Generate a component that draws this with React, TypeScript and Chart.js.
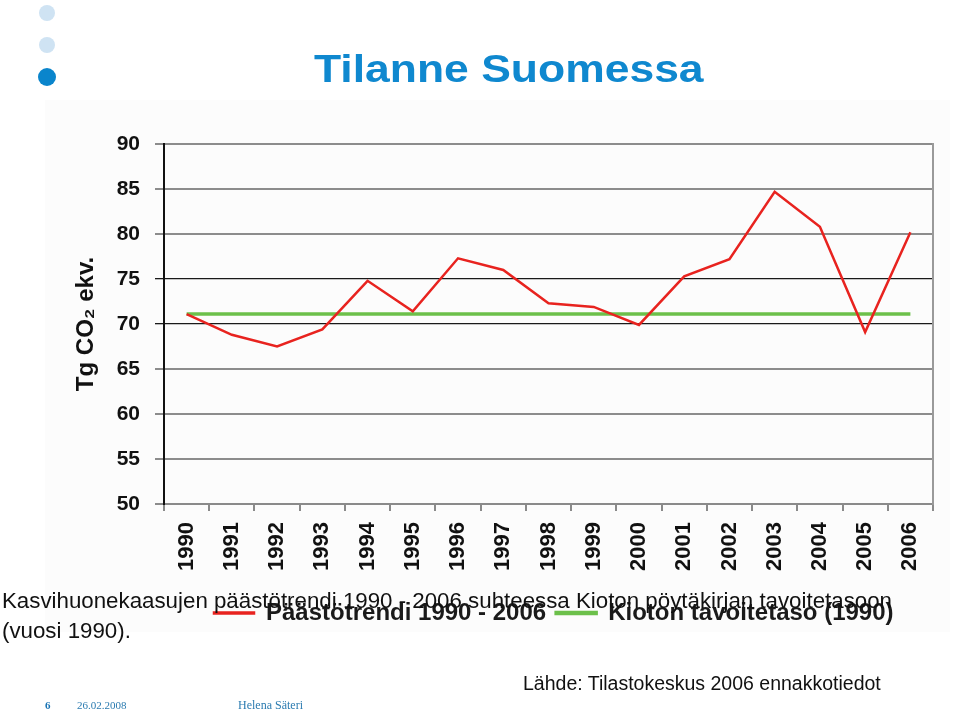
import React, { useEffect, useRef } from 'react';
import { Chart, registerables } from 'chart.js';

Chart.register(...registerables);

const years = ['1990', '1991', '1992', '1993', '1994', '1995', '1996', '1997', '1998', '1999', '2000', '2001', '2002', '2003', '2004', '2005', '2006'];
const emissions = [71.1, 68.8, 67.5, 69.4, 74.8, 71.4, 77.3, 76.0, 72.3, 71.9, 69.9, 75.3, 77.2, 84.7, 80.8, 69.1, 80.2];
const kyotoTarget = [71.1, 71.1, 71.1, 71.1, 71.1, 71.1, 71.1, 71.1, 71.1, 71.1, 71.1, 71.1, 71.1, 71.1, 71.1, 71.1, 71.1];
const seriesLabels = ['Päästötrendi 1990 - 2006', 'Kioton tavoitetaso (1990)'];
const yMin = 50;
const yMax = 90;
const yStep = 5;
const yTitle = 'Tg CO₂ ekv.';

const FONT = "'Liberation Sans', Arial, Helvetica, sans-serif";
const RED = '#e8231f';
const GREEN = '#6cc04a';

export default function App() {
  const ref = useRef<HTMLCanvasElement>(null);

  useEffect(() => {
    if (!ref.current) return;
    const legendShift = {
      id: 'legendShift',
      beforeDraw(chart: any) {
        const lg = chart.legend;
        if (lg) {
          const w = lg.right - lg.left;
          lg.left = 204;
          lg.right = 204 + w;
        }
      },
    };
    const chart = new Chart(ref.current, {
      type: 'line',
      data: {
        labels: years,
        datasets: [
          {
            label: seriesLabels[0],
            data: emissions,
            borderColor: RED,
            backgroundColor: RED,
            borderWidth: 2.5,
            pointRadius: 0,
            tension: 0,
          },
          {
            label: seriesLabels[1],
            data: kyotoTarget,
            borderColor: GREEN,
            backgroundColor: GREEN,
            borderWidth: 3.5,
            pointRadius: 0,
            tension: 0,
          },
        ],
      },
      options: {
        animation: false,
        responsive: false,
        maintainAspectRatio: false,
        layout: { padding: { left: 60, right: 27, top: 144, bottom: 78 } },
        plugins: {
          legend: {
            position: 'bottom',
            align: 'start',
            labels: {
              font: { family: FONT, size: 24, weight: 'bold' },
              color: '#1a1a1a',
              boxWidth: 40,
              boxHeight: 1,
              padding: 10,
            },
          },
          tooltip: { enabled: false },
        },
        scales: {
          x: {
            offset: true,
            grid: {
              offset: true,
              drawOnChartArea: false,
              drawTicks: true,
              tickLength: 7,
              color: '#8a8a8a',
              lineWidth: 2,
            },
            border: { color: '#8a8a8a', width: 2 },
            ticks: {
              autoSkip: false,
              maxRotation: 90,
              minRotation: 90,
              padding: 11,
              font: { family: FONT, size: 22, weight: 'bold' },
              color: '#111',
            },
            afterFit: (s: any) => {
              s.height = 87;
            },
          },
          y: {
            min: yMin,
            max: yMax,
            ticks: {
              stepSize: yStep,
              padding: 15,
              font: { family: FONT, size: 21, weight: 'bold' },
              color: '#111',
            },
            grid: {
              color: (ctx: any) => (ctx.tick && (ctx.tick.value === 70 || ctx.tick.value === 75) ? '#1a1a1a' : '#8c8c8c'),
              lineWidth: (ctx: any) => (ctx.tick && (ctx.tick.value === 70 || ctx.tick.value === 75) ? 1.3 : 2),
              tickLength: 9,
            },
            border: { color: '#111', width: 2 },
            title: {
              display: true,
              text: yTitle,
              font: { family: FONT, size: 24, weight: 'bold' },
              color: '#111',
              padding: { top: 12, bottom: 0 },
            },
            afterFit: (s: any) => {
              s.width = 104;
            },
          },
          y2: {
            position: 'right',
            min: yMin,
            max: yMax,
            ticks: { display: false },
            grid: { drawOnChartArea: false, drawTicks: false },
            border: { color: '#9a9a9a', width: 2 },
            afterFit: (s: any) => {
              s.width = 0;
            },
          },
        },
      },
      plugins: [legendShift],
    } as any);
    return () => chart.destroy();
  }, []);

  const bullet = (top: number, color: string, r: number) => (
    <div
      style={{
        position: 'absolute',
        left: 47 - r,
        top: top - r,
        width: r * 2,
        height: r * 2,
        borderRadius: '50%',
        background: color,
      }}
    />
  );

  return (
    <div
      style={{
        position: 'absolute',
        left: 0,
        top: 0,
        width: 960,
        height: 713,
        background: '#ffffff',
        overflow: 'hidden',
        fontFamily: FONT,
      }}
    >
      <div style={{ position: 'absolute', left: 45, top: 100, width: 905, height: 532, background: '#fcfcfc' }} />
      <canvas ref={ref} width={960} height={713} style={{ position: 'absolute', left: 0, top: 0, width: 960, height: 713 }} />
      {bullet(13, '#cfe3f3', 8)}
      {bullet(45, '#cfe3f3', 8)}
      {bullet(77, '#0a85cc', 9)}
      <div
        style={{
          position: 'absolute',
          left: 314,
          top: 50,
          fontSize: 38,
          lineHeight: '38px',
          fontWeight: 'bold',
          color: '#0f88cf',
          whiteSpace: 'nowrap',
          transform: 'scaleX(1.17)',
          transformOrigin: 'left top',
        }}
      >
        Tilanne Suomessa
      </div>
      <div
        style={{
          position: 'absolute',
          left: 2,
          top: 586,
          fontSize: 22.3,
          lineHeight: '30px',
          color: '#111',
          whiteSpace: 'nowrap',
        }}
      >
        Kasvihuonekaasujen päästötrendi 1990 - 2006 suhteessa Kioton pöytäkirjan tavoitetasoon
        <br />
        (vuosi 1990).
      </div>
      <div
        style={{
          position: 'absolute',
          left: 523,
          top: 673,
          fontSize: 19.5,
          lineHeight: '20px',
          color: '#111',
          whiteSpace: 'nowrap',
        }}
      >
        Lähde: Tilastokeskus 2006 ennakkotiedot
      </div>
      <div
        style={{
          position: 'absolute',
          left: 45,
          top: 698,
          fontSize: 11,
          lineHeight: '14px',
          fontFamily: "'Liberation Serif', 'Times New Roman', serif",
          fontWeight: 'bold',
          color: '#1b75b5',
        }}
      >
        6
      </div>
      <div
        style={{
          position: 'absolute',
          left: 77,
          top: 698,
          fontSize: 11,
          lineHeight: '14px',
          fontFamily: "'Liberation Serif', 'Times New Roman', serif",
          color: '#2b7bb0',
        }}
      >
        26.02.2008
      </div>
      <div
        style={{
          position: 'absolute',
          left: 238,
          top: 698,
          fontSize: 12,
          lineHeight: '14px',
          fontFamily: "'Liberation Serif', 'Times New Roman', serif",
          color: '#2b7bb0',
        }}
      >
        Helena Säteri
      </div>
    </div>
  );
}
